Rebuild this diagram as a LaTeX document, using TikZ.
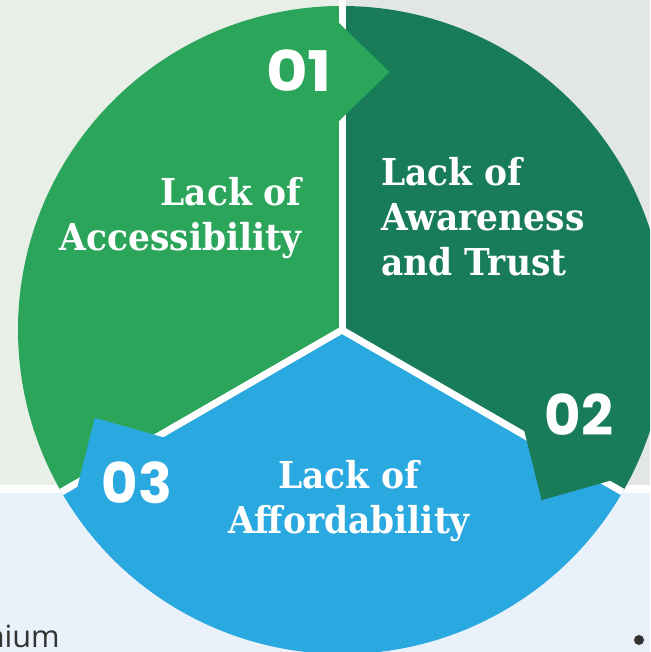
\documentclass[tikz,border=0pt]{standalone}
\usepackage{fontspec}
\newfontfamily\slabfont{DejaVu Serif}[FakeStretch=0.93]
\newfontfamily\numfont{Poppins}
\newfontfamily\numwidefont{Poppins}[FakeStretch=1.14]
\newfontfamily\bodyfont{Open Sans}
\definecolor{secA}{HTML}{2AA55A}
\definecolor{secB}{HTML}{197C59}
\definecolor{secC}{HTML}{2AA8E0}
\definecolor{bgtl}{HTML}{E7EFE7}
\definecolor{bgtr}{HTML}{E3E7E3}
\definecolor{bgbot}{HTML}{E9F1FA}
\definecolor{inkgray}{HTML}{333333}
\begin{document}
\begin{tikzpicture}[x=0.75pt,y=0.75pt,
  divider/.style={white,line width=5.25pt},
  lbl/.style={text=white,inner sep=0pt,font={\slabfont\bfseries\fontsize{27.8}{33.75}\selectfont}},
  num/.style={text=white,inner sep=0pt,font={\numfont\bfseries\fontsize{42}{42}\selectfont}},
  numwide/.style={text=white,inner sep=0pt,font={\numwidefont\bfseries\fontsize{42}{42}\selectfont}}]
\useasboundingbox (0,0) rectangle (650,652);
\clip (0,0) rectangle (650,652);
% background panels
\fill[bgtl] (0,163) rectangle (342,652);
\fill[bgtr] (342,163) rectangle (650,652);
\fill[bgbot] (0,0) rectangle (650,163);
\fill[white] (0,159) rectangle (650,167);
\coordinate (C) at (342,322);
% sectors
\fill[secA] (C) -- ++(90:324) arc[start angle=90,end angle=210,radius=324] -- cycle;
\fill[secB] (C) -- ++(-30:324) arc[start angle=-30,end angle=90,radius=324] -- cycle;
\fill[secC] (C) -- ++(210:324) arc[start angle=210,end angle=330,radius=324] -- cycle;
% dividers
\coordinate (topend) at (342,652);
\draw[divider] (C) -- (topend);
\draw[divider] (C) -- ++(210:324);
\draw[divider] (C) -- ++(330:324);
\fill[white] (C) circle (3.5);
% chevrons
\begin{scope}[shift={(C)}]
  \fill[secA] (-4,208) -- (47.5,258) -- (-4,308) -- cycle;
\end{scope}
\begin{scope}[shift={(C)},rotate=-120]
  \fill[secB] (-4,208) -- (47.5,258) -- (-4,308) -- cycle;
\end{scope}
\begin{scope}[shift={(C)},rotate=120]
  \fill[secC] (-4,208) -- (47.5,258) -- (-4,308) -- cycle;
\end{scope}
% numbers
\node[numwide,anchor=base] (n1) at (299,560) {01};
\node[num,anchor=base] (n2) at (579,216) {02};
\node[num,anchor=base] (n3) at (137,148) {03};
% labels (base anchor = last line)
\node[lbl,align=right,anchor=base east] (t1) at (302,401) {Lack of\\Accessibility};
\node[lbl,align=left,anchor=base west] (t2) at (381,376) {Lack of\\Awareness\\and Trust};
\node[lbl,align=center,anchor=base] (t3) at (349,118) {Lack of\\Affordability};
% cut-off page text
\node[inner sep=0pt,anchor=base east,text=inkgray,font={\bodyfont\fontsize{23}{28}\selectfont}] (nium) at (60,4) {nium};
\fill[inkgray] (639,12) circle (5) node (bullet) {};
\end{tikzpicture}
\end{document}
